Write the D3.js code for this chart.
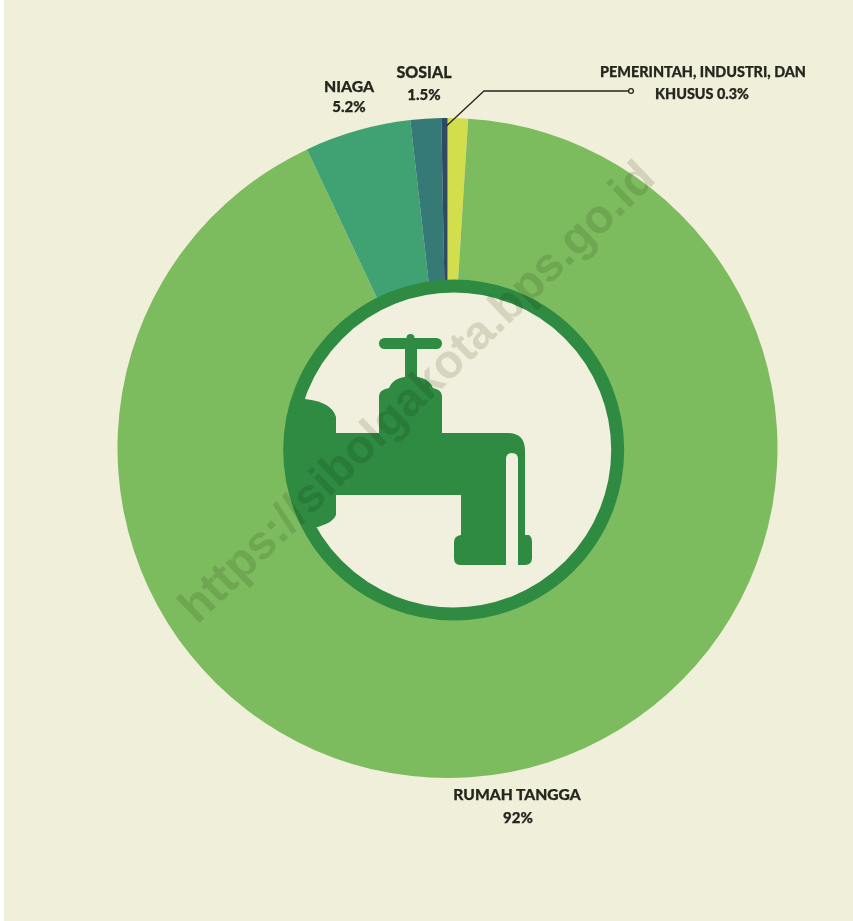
<!DOCTYPE html>
<html>
<head>
<meta charset="utf-8">
<script src="https://cdn.jsdelivr.net/npm/d3@7"></script>
<style>
  html, body { margin: 0; padding: 0; background: #fff; }
  svg { display: block; }
  text { font-family: Lato, "Open Sans", sans-serif; font-weight: 900; fill: #26261f; text-anchor: middle; }
</style>
</head>
<body>
<div id="chart"></div>
<script>
// data, clockwise from 12 o'clock (the yellow slice has no label in the picture)
const categories = ["Lainnya", "Rumah Tangga", "Niaga", "Sosial", "Pemerintah, Industri, dan Khusus"];
const shares = [1.0, 92, 5.2, 1.5, 0.3];
const sliceColors = ["#d3de4d", "#7dbb5f", "#40a173", "#367a77", "#2f4a63"];

const width = 853, height = 921;
const cx = 447.5, cy = 448, outerR = 330;

const svg = d3.select("#chart").append("svg")
  .attr("width", width)
  .attr("height", height);

// beige panel
svg.append("rect")
  .attr("x", 4).attr("y", 0)
  .attr("width", width - 4).attr("height", height)
  .attr("fill", "#efefda");

// slices
const color = d3.scaleOrdinal().domain(categories).range(sliceColors);
const pie = d3.pie().sort(null).value((d, i) => shares[i]);
const arc = d3.arc().innerRadius(0).outerRadius(outerR);
const slices = pie(categories);

svg.append("g")
  .attr("transform", `translate(${cx},${cy})`)
  .selectAll("path")
  .data(slices)
  .join("path")
  .attr("d", arc)
  .attr("fill", d => color(d.data));

// centre badge
const badgeX = 453.7, badgeY = 450, badgeR = 164;
svg.append("clipPath").attr("id", "badge-clip")
  .append("circle").attr("cx", badgeX).attr("cy", badgeY).attr("r", badgeR);
svg.append("circle")
  .attr("cx", badgeX).attr("cy", badgeY).attr("r", badgeR)
  .attr("fill", "#f1f0df")
  .attr("stroke", "#2e8b41")
  .attr("stroke-width", 13);

// tap icon
const tap = svg.append("g").attr("fill", "#2e8b41").attr("clip-path", "url(#badge-clip)");
tap.append("rect").attr("x", 379).attr("y", 338).attr("width", 63).attr("height", 11).attr("rx", 5.5);
tap.append("circle").attr("cx", 410.5).attr("cy", 338).attr("r", 4);
tap.append("rect").attr("x", 405).attr("y", 345).attr("width", 12).attr("height", 35);
tap.append("path").attr("d",
  // bonnet and body
  "M379 436 V396 Q379 390 389 388 Q393 377 411 376 Q429 377 433 388 Q442 390 442 396 V436 Z");
tap.append("path").attr("d",
  // inlet flange
  "M270 399 H305 Q332 402 336 417 V515 Q334 522 318 527 H270 Z");
tap.append("path").attr("d",
  // pipe and outlet, with the water slit cut out
  "M330 433 H508 Q525 433 525 451 V535 H529 Q532 537 532 542 V558 Q532 565 525 565 H518 V459 Q518 453 512 453 Q506 453 506 459 V565 H460 Q454 565 454 558 V542 Q454 536 461 535 V495 H330 Z");

// watermark
svg.append("text")
  .attr("transform", "translate(416,391) rotate(-44)")
  .attr("dy", "0.35em")
  .style("font-family", "'Liberation Sans', Arial, sans-serif")
  .style("font-weight", "700")
  .style("font-size", "47px")
  .style("fill", "#e2e2d9")
  .style("mix-blend-mode", "multiply")
  .text("https://sibolgakota.bps.go.id");

// leader for the thin slice
const thin = slices[4];
const thinAngle = (thin.startAngle + thin.endAngle) / 2;
const leaderStart = [cx + 322 * Math.sin(thinAngle) + 2, cy - 322 * Math.cos(thinAngle)];
svg.append("path")
  .attr("d", d3.line()([leaderStart, [484, 91], [628.5, 91]]))
  .attr("fill", "none")
  .attr("stroke", "#26261f")
  .attr("stroke-width", 1.3);
svg.append("circle")
  .attr("cx", 631).attr("cy", 91).attr("r", 2.4)
  .attr("fill", "none")
  .attr("stroke", "#26261f")
  .attr("stroke-width", 1.3);

// labels: text, x, y, font size
const labelLines = [
  ["NIAGA", 349, 92, 15.8], ["5.2%", 349, 112, 15],
  ["SOSIAL", 424, 78, 16], ["1.5%", 424, 100, 15],
  ["PEMERINTAH, INDUSTRI, DAN", 703, 77, 14.4], ["KHUSUS 0.3%", 702, 99, 14.4],
  ["RUMAH TANGGA", 517, 800, 15.6], ["92%", 518, 823, 15]
];
svg.selectAll("text.label")
  .data(labelLines)
  .join("text")
  .attr("class", "label")
  .attr("x", d => d[1])
  .attr("y", d => d[2])
  .style("font-size", d => d[3] + "px")
  .style("stroke", "#26261f")
  .style("stroke-width", 0.25)
  .text(d => d[0]);
</script>
</body>
</html>
